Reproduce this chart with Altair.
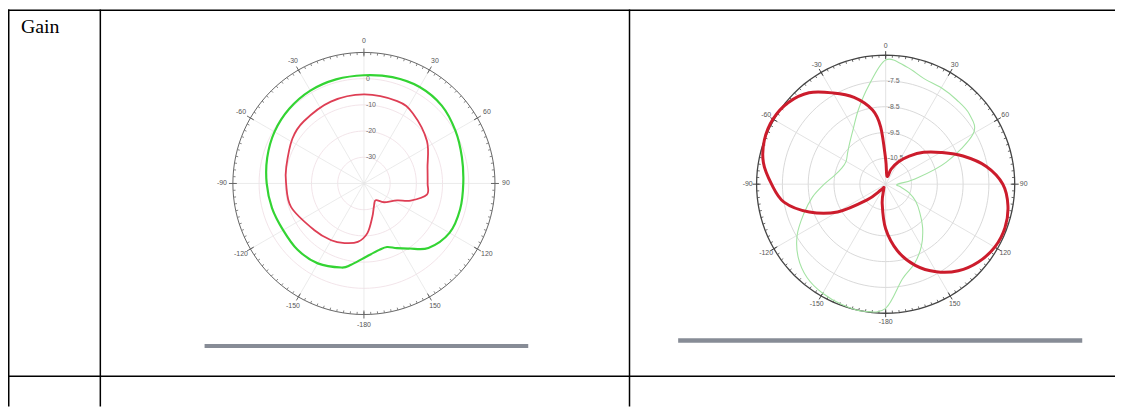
import altair as alt
import pandas as pd
import numpy as np

# ---------------- data ----------------
# Angles in degrees, clockwise from top; gains in dB.
# Panel (a)
a_green_angle = [0, 15, 30, 45, 60, 75, 90, 105, 120, 135, 145, 153, 160, 167, 180,
                 189, 195, 210, 225, 240, 255, 270, 285, 300, 315, 330, 345]
a_green_gain = [1.3, 2.0, 2.5, 2.0, 0.3, -1.3, -2.1, -2.0, -2.3, -5.2, -9.7, -12.3, -14.2, -14.0, -11.6,
                -8.6, -6.8, -4.8, -4.2, -4.4, -3.7, -2.9, -1.8, -0.6, 0.3, 0.9, 1.1]
a_red_angle = [0, 22, 35, 56, 76, 90, 100, 110, 117, 133, 145, 157, 166, 176, 186,
               198, 210, 227, 252, 270, 282, 302, 316, 338]
a_red_gain = [-6.0, -6.1, -7.4, -11.0, -15.0, -15.7, -15.6, -21.0, -25.8, -29.5, -32.2, -30.3, -26.8, -21.0, -17.6,
              -16.1, -15.0, -14.0, -10.8, -10.3, -9.7, -7.8, -7.0, -6.3]
a_rings = [-30, -20, -10, 0]
a_ring_labels = ["-30", "-20", "-10", "0"]
a_floor, a_outer = -40, 10

# Panel (b)
b_green_angle = [0, 10, 20, 30, 40, 50, 60, 70, 80, 90, 100, 110, 120, 130, 140, 150, 160, 170,
                 180, 190, 200, 210, 220, 230, 240, 250, 260, 270, 280, 290, 300, 310, 320, 330, 340, 350]
b_green_gain = [-6.69, -6.88, -7.15, -7.19, -7.23, -7.27, -7.58, -9.0, -10.35, -11.04, -10.92, -10.54,
                -10.15, -9.77, -9.27, -8.73, -8.23, -7.77, -6.69, -6.5, -6.54, -6.62, -6.77, -7.08,
                -7.54, -8.12, -8.62, -9.12, -9.5, -9.69, -9.73, -9.58, -9.35, -9.0, -8.42, -7.65]
b_red_angle = [0, 10, 20, 30, 40, 50, 60, 70, 80, 90, 100, 110, 120, 130, 140, 150, 160, 170,
               180, 190, 200, 210, 220, 230, 240, 250, 260, 270, 280, 290, 300, 310, 320, 330, 340, 350, 355]
b_red_gain = [-10.54, -11.19, -10.88, -10.5, -10.08, -9.58, -9.04, -8.31, -7.54, -6.96, -6.69, -6.58,
              -6.62, -6.81, -7.12, -7.58, -8.15, -8.88, -9.77, -10.73, -11.27, -11.35, -11.19, -10.54,
              -9.35, -8.35, -7.5, -7.08, -6.69, -6.5, -6.46, -6.58, -6.88, -7.42, -7.92, -8.58, -9.27]
b_rings = [-10.5, -9.5, -8.5, -7.5]
b_ring_labels = ["-10.5", "-9.5", "-8.5", "-7.5"]
b_floor, b_outer = -11.5, -6.5

angle_ticks = [0, 30, 60, 90, 120, 150, 180, 210, 240, 270, 300, 330]
angle_labels = ["0", "30", "60", "90", "120", "150", "-180", "-150", "-120", "-90", "-60", "-30"]

row_label = "Gain"

W, H = 1115, 400
FONT = "Liberation Sans"


def curve(angles, gains):
    return pd.DataFrame({"angle": list(angles), "gain": list(gains)})


def panel(curves, rings, ring_labels, floor, outer, cx, cy, R, ring_color, spoke_color,
          label_r_px, circle_color, circle_w):
    span = outer - floor
    upp = span / R  # units per pixel
    xs = alt.Scale(domain=[-span, span], range=[cx - R, cx + R])
    ys = alt.Scale(domain=[-span, span], range=[cy + R, cy - R])
    X = lambda f: alt.X(f"{f}:Q", scale=xs, axis=None)
    Y = lambda f: alt.Y(f"{f}:Q", scale=ys, axis=None)
    pol = dict(px="datum.r * sin(datum.angle * PI / 180)",
               py="datum.r * cos(datum.angle * PI / 180)")

    layers = []
    # grid rings
    ring_rows = []
    steps = list(range(0, 360, 3))
    for rv in rings:
        for a in steps:
            ring_rows.append({"ring": rv, "angle": a})
    ring_df = pd.DataFrame(ring_rows)
    layers.append(alt.Chart(ring_df).transform_calculate(r=f"datum.ring - ({floor})")
                  .transform_calculate(**pol)
                  .mark_line(color=ring_color, strokeWidth=0.8, interpolate="linear-closed")
                  .encode(x=X("px"), y=Y("py"), detail="ring:N", order="angle:Q"))
    # spokes
    sp = pd.DataFrame({"angle": angle_ticks})
    layers.append(alt.Chart(sp).transform_calculate(
        px2=f"{span} * sin(datum.angle * PI / 180)",
        py2=f"{span} * cos(datum.angle * PI / 180)", z="0")
        .mark_rule(color=spoke_color, strokeWidth=0.8)
        .encode(x=X("z"), y=Y("z"), x2="px2:Q", y2="py2:Q"))
    # outer circle
    oc = pd.DataFrame({"angle": steps})
    layers.append(alt.Chart(oc).transform_calculate(r=f"{span}").transform_calculate(**pol)
                  .mark_line(color=circle_color, strokeWidth=circle_w, interpolate="linear-closed")
                  .encode(x=X("px"), y=Y("py"), order="angle:Q"))
    # minor ticks
    mt = pd.DataFrame({"angle": list(range(0, 360, 3))})
    r_in = span - 2.5 * upp
    layers.append(alt.Chart(mt).transform_calculate(
        px=f"{r_in} * sin(datum.angle * PI / 180)", py=f"{r_in} * cos(datum.angle * PI / 180)",
        px2=f"{span} * sin(datum.angle * PI / 180)", py2=f"{span} * cos(datum.angle * PI / 180)")
        .mark_rule(color=circle_color, strokeWidth=0.8)
        .encode(x=X("px"), y=Y("py"), x2="px2:Q", y2="py2:Q"))
    # major ticks
    r1, r2 = span - 4 * upp, span + 4 * upp
    layers.append(alt.Chart(sp).transform_calculate(
        px=f"{r1} * sin(datum.angle * PI / 180)", py=f"{r1} * cos(datum.angle * PI / 180)",
        px2=f"{r2} * sin(datum.angle * PI / 180)", py2=f"{r2} * cos(datum.angle * PI / 180)")
        .mark_rule(color=circle_color, strokeWidth=1)
        .encode(x=X("px"), y=Y("py"), x2="px2:Q", y2="py2:Q"))
    # angle labels
    lab = pd.DataFrame({"angle": angle_ticks, "label": angle_labels})
    lr = label_r_px * upp
    layers.append(alt.Chart(lab).transform_calculate(r=f"{lr}").transform_calculate(**pol)
                  .mark_text(fontSize=7, font=FONT, color="#555555", align="center", baseline="middle")
                  .encode(x=X("px"), y=Y("py"), text="label:N"))
    # ring labels
    rl = pd.DataFrame({"ring": rings, "label": ring_labels})
    layers.append(alt.Chart(rl).transform_calculate(r=f"datum.ring - ({floor})", angle="0")
                  .transform_calculate(**pol)
                  .mark_text(fontSize=7, font=FONT, color="#666666", align="left", baseline="middle", dx=2)
                  .encode(x=X("px"), y=Y("py"), text="label:N"))
    # curves
    for df, color, sw in curves:
        layers.append(alt.Chart(df).transform_calculate(r=f"max(0, datum.gain - ({floor}))")
                      .transform_calculate(**pol)
                      .mark_line(color=color, strokeWidth=sw, strokeJoin="round",
                                 interpolate="cardinal-closed")
                      .encode(x=X("px"), y=Y("py"), order="angle:Q"))
    return alt.layer(*layers)


left = panel([(curve(a_green_angle, a_green_gain), "#33d433", 2.2),
              (curve(a_red_angle, a_red_gain), "#de3e54", 1.8)],
             a_rings, a_ring_labels, a_floor, a_outer,
             cx=358.5, cy=175.3, R=132, ring_color="#efdde3", spoke_color="#e6e6e6",
             label_r_px=143, circle_color="#666666", circle_w=1.0)

right = panel([(curve(b_green_angle, b_green_gain), "#a3e3a3", 1.1),
               (curve(b_red_angle, b_red_gain), "#cc1c2c", 3.0)],
              b_rings, b_ring_labels, b_floor, b_outer,
              cx=884, cy=176, R=130, ring_color="#cfcfcf", spoke_color="#dcdcdc",
              label_r_px=139, circle_color="#444444", circle_w=1.3)

one = pd.DataFrame({"k": [0]})
table_v = [0.75, 93, 626]
table = []
for xv in table_v:
    table.append(alt.Chart(one).mark_rule(color="black", strokeWidth=1.5)
                 .encode(x=alt.value(xv), y=alt.value(0), y2=alt.value(H)))
for yv in [0.75, 369.5]:
    table.append(alt.Chart(one).mark_rule(color="black", strokeWidth=1.5)
                 .encode(x=alt.value(0), x2=alt.value(W), y=alt.value(yv)))
# image under-bars
table.append(alt.Chart(one).mark_rule(color="#878c96", strokeWidth=4)
             .encode(x=alt.value(198), x2=alt.value(524), y=alt.value(339)))
table.append(alt.Chart(one).mark_rule(color="#878c96", strokeWidth=4.5)
             .encode(x=alt.value(675), x2=alt.value(1082), y=alt.value(333.5)))
table.append(alt.Chart(pd.DataFrame({"t": [row_label]})).mark_text(
    font="Liberation Serif", fontSize=20, color="black", align="left", baseline="alphabetic")
    .encode(x=alt.value(13), y=alt.value(24), text="t:N"))

chart = alt.layer(left, right, *table).resolve_scale(x="independent", y="independent").properties(
    width=W, height=H, padding=0, autosize=alt.AutoSizeParams(type="none"),
    background="white").configure_view(stroke=None)

chart.save("out.html", embed_options={"renderer": "svg", "actions": False})
